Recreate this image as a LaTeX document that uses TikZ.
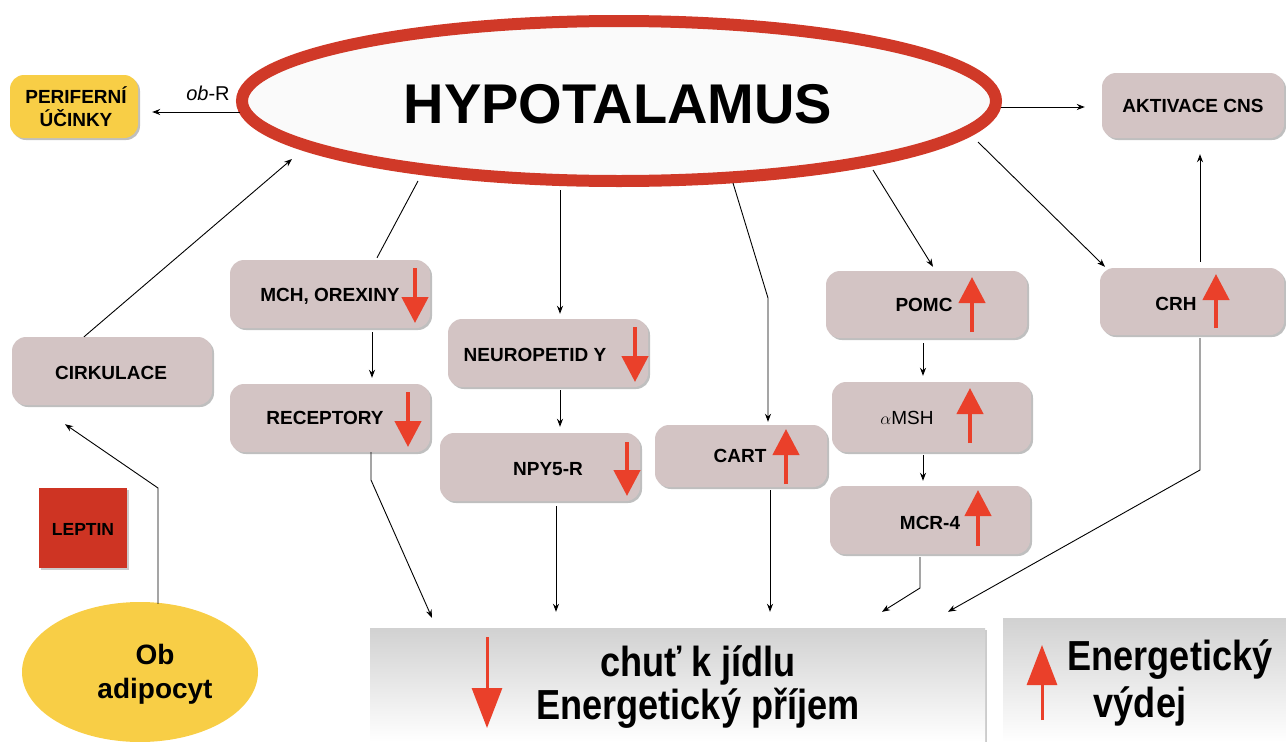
\documentclass[tikz,border=0pt]{standalone}
\usepackage{fontspec}
\setmainfont{Liberation Sans}
\newfontfamily\narrowf[FakeStretch=0.86]{Liberation Sans}
\usetikzlibrary{arrows.meta,shapes.geometric,shadows}
\definecolor{boxc}{RGB}{211,196,196}
\definecolor{ylw}{RGB}{248,206,70}
\definecolor{ellred}{RGB}{208,57,40}
\definecolor{lepred}{RGB}{206,52,35}
\definecolor{arrred}{RGB}{234,64,42}
\begin{document}
\begin{tikzpicture}[x=1pt,y=-1pt,
  box/.style={rectangle, rounded corners=14pt, fill=boxc, draw=none, inner sep=0pt,
    drop shadow={shadow xshift=2pt, shadow yshift=-2pt, opacity=0.25, fill=black}},
  gbox/.style={rectangle, draw=none, inner sep=0pt, top color=black!18, bottom color=white,
    drop shadow={shadow xshift=2pt, shadow yshift=-2pt, opacity=0.2, fill=black}},
  lbl/.style={font=\bfseries\fontsize{19}{23}\selectfont, inner sep=0pt, align=center},
  big/.style={font=\narrowf\bfseries\fontsize{42}{46}\selectfont, inner sep=0pt},
  arr/.style={-{Stealth[length=8pt,width=6pt]}, line width=0.9pt},
  ln/.style={line width=0.9pt},
  rarr/.style={arrred, line width=4.5pt, -{Triangle[length=26pt,width=26pt]}},
  rarrbig/.style={arrred, line width=3pt, -{Triangle[length=40pt,width=30pt]}}
]
\useasboundingbox (0,0) rectangle (1286,742);

% boxes
\node[box, fill=ylw, minimum width=128pt, minimum height=63pt] (per) at (74,106.5) {};
\node[box, minimum width=182pt, minimum height=65pt] (akt) at (1193,105.5) {};
\node[box, minimum width=184pt, minimum height=67pt] (crh) at (1192,301.5) {};
\node[box, minimum width=201pt, minimum height=67pt] (pomc) at (926.5,304.5) {};
\node[box, minimum width=199pt, minimum height=70pt] (msh) at (931.5,417) {};
\node[box, minimum width=200pt, minimum height=68pt] (mcr) at (930,520) {};
\node[box, minimum width=172pt, minimum height=62pt] (cart) at (741,456) {};
\node[box, minimum width=200pt, minimum height=68pt] (npy) at (548,353) {};
\node[box, minimum width=200pt, minimum height=68pt] (npyr) at (540,467) {};
\node[box, minimum width=200pt, minimum height=68pt] (mch) at (330,294) {};
\node[box, minimum width=200pt, minimum height=68pt] (rec) at (330,418) {};
\node[box, minimum width=200pt, minimum height=68pt] (cirk) at (112,371) {};
\node[rectangle, fill=lepred, minimum width=88pt, minimum height=80pt, inner sep=0pt,
  drop shadow={shadow xshift=2pt, shadow yshift=-2pt, opacity=0.2, fill=black}] (lep) at (83,528) {};
\node[ellipse, fill=ylw, minimum width=236pt, minimum height=140pt, inner sep=0pt] (adip) at (140,672) {};
\node[gbox, minimum width=615pt, minimum height=114pt] (bot) at (677.5,685) {};
\node[gbox, minimum width=283pt, minimum height=124pt] (rgt) at (1144.5,680) {};

% hypothalamus
\node[ellipse, draw=ellred, line width=12pt, fill=black!2, minimum width=754pt, minimum height=160pt, inner sep=0pt] (hypo) at (619,101) {};
\node[font=\bfseries\fontsize{56}{60}\selectfont, inner sep=0pt] (thypo) at (618,104) {HYPOTALAMUS};

% texts
\node[lbl] (tper) at (76,107) {PERIFERNÍ\\ÚČINKY};
\node[font=\fontsize{20}{24}\selectfont, inner sep=0pt] (tob) at (208,93) {\textit{ob}-R};
\node[lbl] (takt) at (1193,106) {AKTIVACE CNS};
\node[lbl] (tcrh) at (1176,304) {CRH};
\node[lbl] (tpomc) at (924,305) {POMC};
\node[font=\fontsize{19}{23}\selectfont, inner sep=0pt] (tmsh) at (907,418) {$\alpha$MSH};
\node[lbl] (tmcr) at (930,523) {MCR-4};
\node[lbl] (tcart) at (740,456) {CART};
\node[lbl] (tnpy) at (535,355) {NEUROPETID Y};
\node[lbl] (tnpyr) at (548,469) {NPY5-R};
\node[lbl] (tmch) at (330,296) {MCH, OREXINY};
\node[lbl] (trec) at (325,418) {RECEPTORY};
\node[lbl] (tcirk) at (111,373) {CIRKULACE};
\node[lbl, font=\bfseries\fontsize{17.5}{20}\selectfont] (tlep) at (83,529) {LEPTIN};
\node[lbl, font=\bfseries\fontsize{28}{34}\selectfont] (tadip) at (155,674) {Ob\\adipocyt};
\node[big] (tchut) at (698,665) {chuť k jídlu};
\node[big] (tpri) at (698,708) {Energetický příjem};
\node[big] (tvyd1) at (1170,660) {Energetický};
\node[big] (tvyd2) at (1140,706) {výdej};

% red arrows
\coordinate (ra1) at (415,268); \coordinate (rb1) at (415,323);
\coordinate (ra2) at (408,392); \coordinate (rb2) at (408,447);
\coordinate (ra3) at (635,327); \coordinate (rb3) at (635,382);
\coordinate (ra4) at (627,442); \coordinate (rb4) at (627,496);
\coordinate (ra5) at (786,484); \coordinate (rb5) at (786,429);
\coordinate (ra6) at (972,332); \coordinate (rb6) at (972,277);
\coordinate (ra7) at (970,443); \coordinate (rb7) at (970,388);
\coordinate (ra8) at (978,546); \coordinate (rb8) at (978,490);
\coordinate (ra9) at (1216,328); \coordinate (rb9) at (1216,274);
\draw[rarr] (ra1) -- (rb1);
\draw[rarr] (ra2) -- (rb2);
\draw[rarr] (ra3) -- (rb3);
\draw[rarr] (ra4) -- (rb4);
\draw[rarr] (ra5) -- (rb5);
\draw[rarr] (ra6) -- (rb6);
\draw[rarr] (ra7) -- (rb7);
\draw[rarr] (ra8) -- (rb8);
\draw[rarr] (ra9) -- (rb9);
\coordinate (rbA) at (487,637); \coordinate (rbB) at (487,728);
\coordinate (rgA) at (1042,720); \coordinate (rgB) at (1042,645);
\draw[rarrbig] (rbA) -- (rbB);
\draw[rarrbig] (rgA) -- (rgB);

% points on the hypothalamus
\coordinate (h1) at (240,112);
\coordinate (h2) at (1001,107);
\coordinate (h3) at (978,142);
\coordinate (h4) at (873,170);
\coordinate (h5) at (733,183);
\coordinate (h6) at (560,190);
\coordinate (h7) at (418,181);
\coordinate (h8) at (292,159);
% bends
\coordinate (bcart) at (768,298);
\coordinate (badip) at (158,488);
\coordinate (brec) at (371,480);
\coordinate (bmcr) at (920,588);
\coordinate (bcrh) at (1200,470);

% connectors
\draw[arr] (h1) -- ([xshift=14pt,yshift=-5.5pt]per.east);
\draw[arr] (h2) -- ([xshift=-17pt,yshift=-1.5pt]akt.west);
\draw[arr] (h3) -- ([xshift=-87pt,yshift=1pt]crh.north);
\draw[arr] (h4) -- ([xshift=6.5pt,yshift=4pt]pomc.north);
\draw[arr] (h5) -- (bcart) -- ([xshift=27pt,yshift=3pt]cart.north);
\draw[arr] (h6) -- ([xshift=12pt,yshift=5pt]npy.north);
\draw[ln] (h7) -- ([xshift=47pt,yshift=2pt]mch.north);
\draw[arr] ([xshift=-28pt]cirk.north) -- (h8);
\draw[arr] ([xshift=18pt,yshift=-2pt]adip.north) -- (badip) -- ([xshift=-47pt,yshift=-19pt]cirk.south);
\draw[arr] ([xshift=42pt,yshift=-4pt]mch.south) -- ([xshift=42pt,yshift=6pt]rec.north);
\draw[arr] ([xshift=12pt,yshift=-3pt]npy.south) -- ([xshift=20pt,yshift=6pt]npyr.north);
\draw[arr] ([xshift=-3.5pt,yshift=-5pt]pomc.south) -- ([xshift=-8.5pt,yshift=6pt]msh.north);
\draw[arr] ([xshift=-8.5pt,yshift=-3pt]msh.south) -- ([xshift=-7pt,yshift=5pt]mcr.north);
\draw[arr] ([xshift=8pt,yshift=6pt]crh.north) -- ([xshift=7pt,yshift=-16pt]akt.south);
\draw[arr] ([xshift=41pt]rec.south) -- (brec) -- ([xshift=-245.5pt,yshift=10pt]bot.north);
\draw[arr] ([xshift=16pt,yshift=-5pt]npyr.south) -- ([xshift=-121.5pt,yshift=16pt]bot.north);
\draw[arr] ([xshift=29pt,yshift=-3pt]cart.south) -- ([xshift=92.5pt,yshift=16pt]bot.north);
\draw[arr] ([xshift=-10pt,yshift=-3pt]mcr.south) -- (bmcr) -- ([xshift=204.5pt,yshift=16pt]bot.north);
\draw[arr] ([xshift=8pt,yshift=-3pt]crh.south) -- (bcrh) -- ([xshift=270.5pt,yshift=16pt]bot.north);
\end{tikzpicture}
\end{document}
